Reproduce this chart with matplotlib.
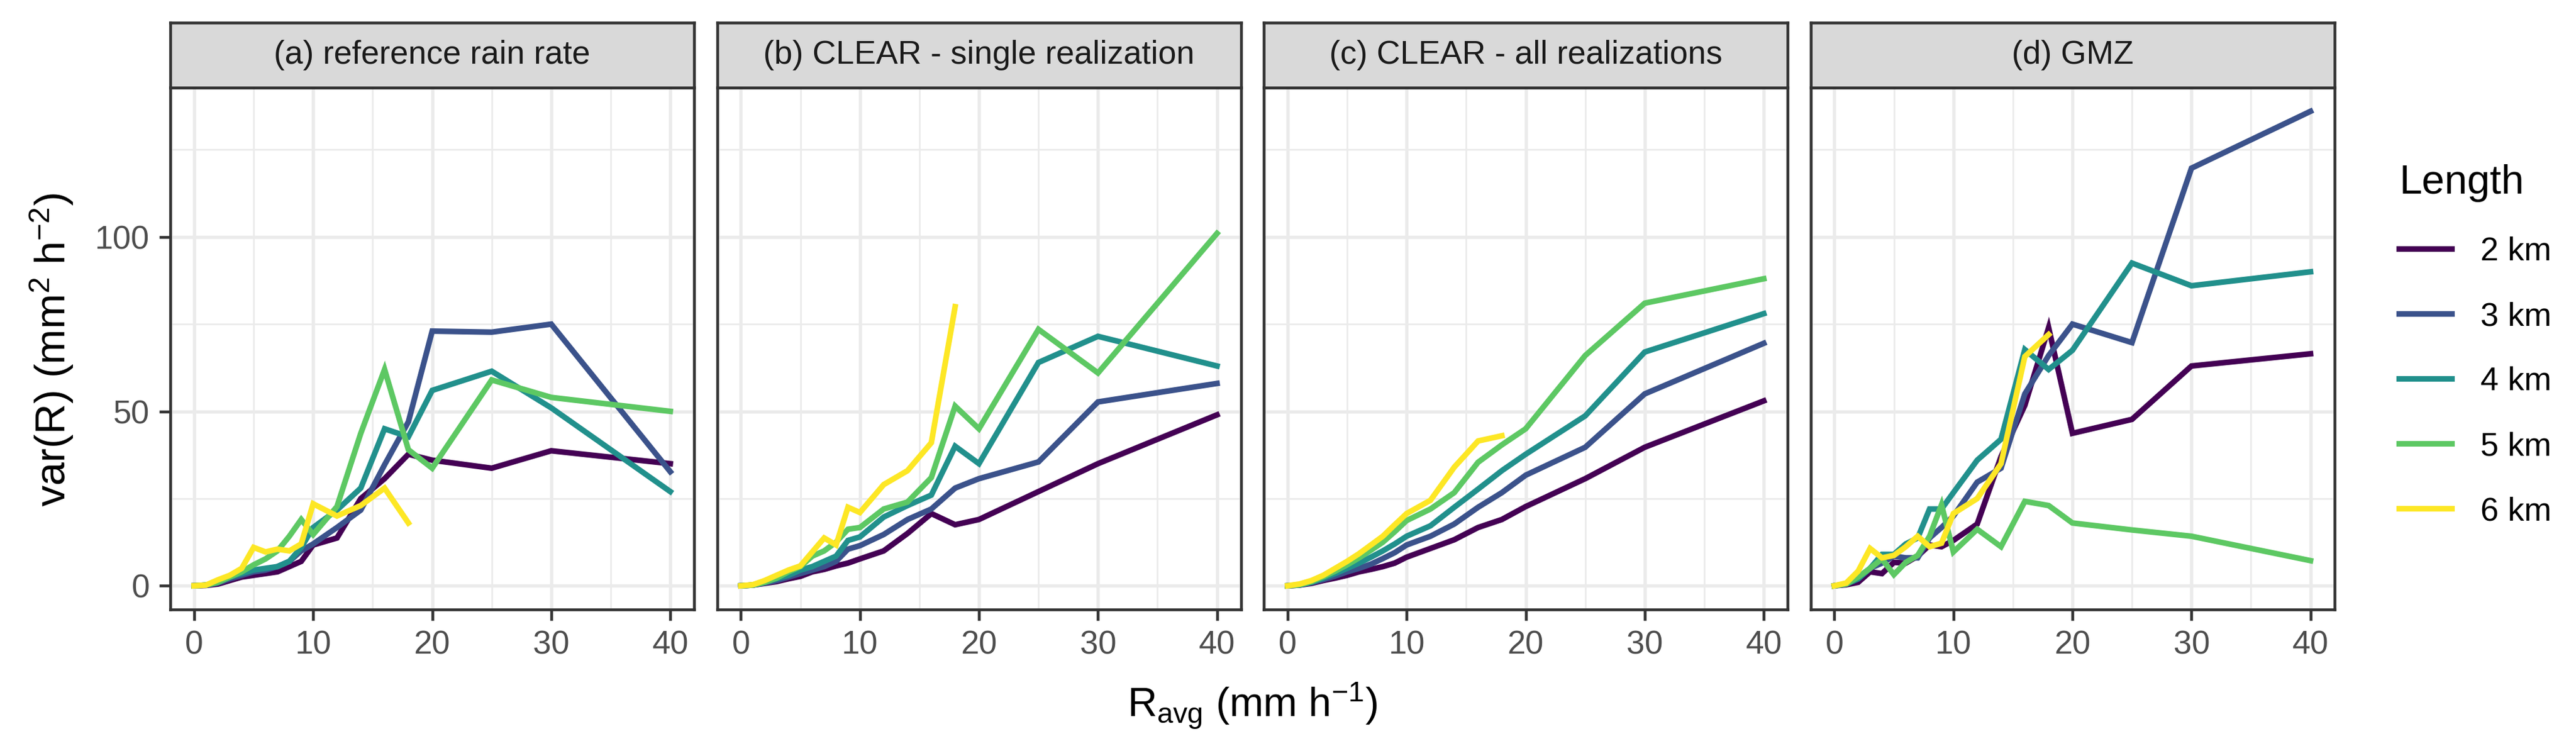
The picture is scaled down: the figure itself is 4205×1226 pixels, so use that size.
import matplotlib
matplotlib.use('Agg')
import matplotlib.pyplot as plt
from matplotlib.lines import Line2D

plt.rcParams['font.family'] = ['Liberation Sans', 'DejaVu Sans']
plt.rcParams['mathtext.fontset'] = 'custom'
plt.rcParams['mathtext.rm'] = 'Liberation Sans'
plt.rcParams['mathtext.it'] = 'Liberation Sans:italic'
plt.rcParams['mathtext.bf'] = 'Liberation Sans:bold'

# rain rate classes (mm/h)
r_avg = [0, 1, 2, 3, 4, 5, 6, 7, 8, 9, 10, 12, 14, 16, 18, 20, 25, 30, 40]
r_avg_6km = r_avg[:15]

lengths = ['2 km', '3 km', '4 km', '5 km', '6 km']
colors = ['#440154', '#3B528B', '#21908C', '#5DC863', '#FDE725']

panel_titles = ['(a) reference rain rate', '(b) CLEAR - single realization',
                '(c) CLEAR - all realizations', '(d) GMZ']

# (a) reference rain rate
ref_2km = [0, 0.1, 0.5, 1.5, 2.5, 3, 3.5, 4, 5.5, 7, 11.7, 13.7, 25, 30.7, 37.7, 36, 33.7, 38.7, 35]
ref_3km = [0, 0.2, 0.8, 2, 3, 4, 4.5, 5.5, 7, 10, 12, 16.7, 21.7, 34.7, 47, 73, 72.7, 75, 32.7]
ref_4km = [0, 0.2, 1, 2.5, 3.5, 4.5, 5, 5.5, 7, 11, 16.7, 21.7, 28, 45, 42.7, 56, 61.5, 51, 27]
ref_5km = [0, 0.2, 1, 2.5, 4, 6, 7.7, 10, 14.2, 19, 14.7, 22.7, 43.7, 62, 39, 33.7, 59, 54, 50]
ref_6km = [0, 0.2, 1.7, 3, 5, 11, 9.7, 10.5, 10, 12, 23.5, 20, 23, 28, 18]

# (b) CLEAR single realization
single_2km = [0, 0.2, 0.7, 1.2, 2, 2.7, 4, 4.7, 5.7, 6.5, 7.7, 10, 15, 20.7, 17.5, 19, 27, 35, 49]
single_3km = [0, 0.2, 0.8, 1.5, 2.5, 3.5, 4.5, 5.5, 7, 10.5, 11.5, 14.7, 19, 22, 28, 30.7, 35.5, 52.7, 58]
single_4km = [0, 0.2, 1, 2, 3, 4.5, 5.5, 7, 8.5, 13, 14, 19.7, 23, 26, 40, 35, 64, 71.5, 63]
single_5km = [0, 0.2, 1, 2.2, 4, 5.5, 8.5, 10, 12.5, 16.2, 16.7, 22, 24, 31, 51.5, 45, 73.5, 61, 101]
single_6km = [0, 0.3, 1.5, 3, 4.5, 5.7, 9.7, 13.7, 11.7, 22.5, 21, 29, 33, 41, 80]

# (c) CLEAR all realizations
all_2km = [0, 0.2, 0.7, 1.5, 2.2, 3, 4, 4.7, 5.5, 6.5, 8.2, 10.7, 13.2, 16.7, 19, 22.7, 30.7, 39.7, 53]
all_3km = [0, 0.2, 0.9, 1.8, 2.8, 4, 5, 6.2, 7.8, 9.5, 11.7, 14.2, 17.7, 22.5, 26.7, 31.7, 39.7, 55, 69.5]
all_4km = [0, 0.25, 1, 2.2, 3.5, 5, 6.5, 8.2, 10, 12, 14.2, 17.2, 22.5, 27.7, 33, 37.7, 48.7, 67, 78]
all_5km = [0, 0.3, 1.2, 2.6, 4.2, 6, 8, 10.2, 12.5, 15.5, 18.7, 22, 26.7, 35.4, 40.4, 45, 66, 81, 88]
all_6km = [0, 0.5, 1.5, 3, 5, 7, 9.2, 11.7, 14.2, 17.5, 20.7, 24.5, 34, 41.5, 43]

# (d) GMZ
gmz_2km = [0, 0.3, 1, 4, 3.5, 6.7, 6.5, 8.5, 11.7, 11.2, 13, 17.7, 37, 51.7, 74, 43.7, 47.7, 63, 66.5]
gmz_3km = [0, 0.5, 2, 5, 6.5, 8.5, 8, 8, 13.7, 16.7, 20, 29.7, 33.7, 55, 66, 75, 69.7, 119.7, 136]
gmz_4km = [0, 0.5, 2, 5, 9, 9, 12, 13.7, 22, 22, 26.7, 36, 42, 67.7, 62, 67.5, 92.5, 86, 90]
gmz_5km = [0, 0.5, 2.5, 5, 7.7, 3.2, 6.7, 8.7, 14.2, 23.2, 9.7, 16.2, 11.2, 24.2, 23, 18, 16, 14.2, 7.2]
gmz_6km = [0, 0.8, 4.2, 10.7, 8, 8.7, 11.2, 14.2, 11.2, 12.2, 20.7, 25, 35, 65.7, 72]

panels = [
    [ref_2km, ref_3km, ref_4km, ref_5km, ref_6km],
    [single_2km, single_3km, single_4km, single_5km, single_6km],
    [all_2km, all_3km, all_4km, all_5km, all_6km],
    [gmz_2km, gmz_3km, gmz_4km, gmz_5km, gmz_6km],
]

W, H = 4205, 1226
DPI = 300
fig = plt.figure(figsize=(W / DPI, H / DPI), dpi=DPI)

# ggplot-like limits (5% expansion)
ymax = max(max(s) for p in panels for s in p)
ylim = (-0.05 * ymax, ymax * 1.05)
xlim = (-2, 42)

left0, pw, gap = 278, 855, 37.5
ptop, pbot = 143, 995
strip_top = 37

grid_col = '#EBEBEB'
edge_col = '#333333'
lw_data = 2.2

for i, (title, series) in enumerate(zip(panel_titles, panels)):
    x0 = left0 + i * (pw + gap)
    ax = fig.add_axes([x0 / W, 1 - pbot / H, pw / W, (pbot - ptop) / H])
    for k, s in enumerate(series):
        xs = r_avg if len(s) == len(r_avg) else r_avg_6km
        ax.plot(xs, s, color=colors[k], lw=lw_data, solid_joinstyle='miter', zorder=3)
    ax.set_xlim(xlim)
    ax.set_ylim(ylim)
    ax.set_xticks([0, 10, 20, 30, 40])
    ax.set_xticks([5, 15, 25, 35], minor=True)
    ax.set_yticks([0, 50, 100])
    ax.set_yticks([25, 75, 125], minor=True)
    ax.grid(True, which='major', color=grid_col, lw=1.3, zorder=0)
    ax.grid(True, which='minor', color=grid_col, lw=0.65, zorder=0)
    ax.set_axisbelow(True)
    for sp in ax.spines.values():
        sp.set_color(edge_col)
        sp.set_linewidth(1.1)
    ax.tick_params(which='major', length=4.3, width=1.1, color=edge_col,
                   labelsize=12.8, labelcolor='#4D4D4D', pad=3.8)
    ax.tick_params(which='minor', length=0)
    if i > 0:
        ax.tick_params(axis='y', labelleft=False, length=0)

    sax = fig.add_axes([x0 / W, 1 - ptop / H, pw / W, (ptop - strip_top) / H])
    sax.set_facecolor('#D9D9D9')
    sax.set_xticks([])
    sax.set_yticks([])
    for sp in sax.spines.values():
        sp.set_color(edge_col)
        sp.set_linewidth(1.1)
    sax.text(0.5, 0.5, title, ha='center', va='center', fontsize=12.8,
             color='#1A1A1A', transform=sax.transAxes)

fig.text(85 / W, 1 - 571 / H, 'var(R) (mm$^{2}$ h$^{-2}$)', rotation=90,
         ha='center', va='center', fontsize=16.5)
fig.text(2044 / W, 1 - 1152 / H, 'R$_{\\mathrm{avg}}$ (mm h$^{-1}$)',
         ha='center', va='center', fontsize=16)

handles = [Line2D([], [], color=c, lw=lw_data) for c in colors]
fig.legend(handles, lengths, loc='upper left',
           bbox_to_anchor=(3916 / W, 1 - 268 / H), frameon=False,
           borderpad=0, borderaxespad=0,
           title='Length', fontsize=12.8, title_fontsize=16,
           handlelength=1.61, handletextpad=0.88, labelspacing=1.05,
           alignment='left')

fig.savefig('out.png', dpi=DPI, facecolor='white')
